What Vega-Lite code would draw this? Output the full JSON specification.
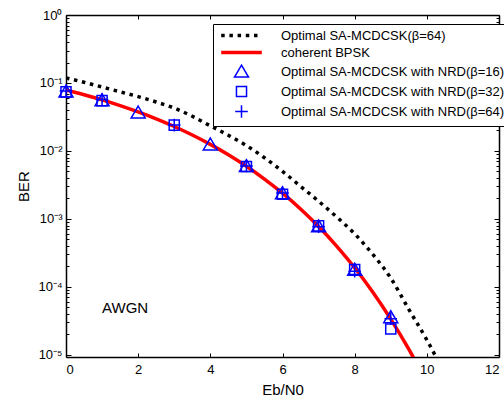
{
  "$schema": "https://vega.github.io/schema/vega-lite/v6.json",
  "width": 433,
  "height": 342,
  "autosize": "none",
  "padding": {"left": 66, "top": 15, "right": 5, "bottom": 45},
  "background": "white",
  "data": {"values": [
    {"series": "Optimal SA-MCDCSK(β=64)", "ebn0": 0, "ber": 0.1189},
    {"series": "Optimal SA-MCDCSK(β=64)", "ebn0": 0.5, "ber": 0.1023},
    {"series": "Optimal SA-MCDCSK(β=64)", "ebn0": 1, "ber": 0.0871},
    {"series": "Optimal SA-MCDCSK(β=64)", "ebn0": 1.5, "ber": 0.0741},
    {"series": "Optimal SA-MCDCSK(β=64)", "ebn0": 2, "ber": 0.0631},
    {"series": "Optimal SA-MCDCSK(β=64)", "ebn0": 2.5, "ber": 0.0525},
    {"series": "Optimal SA-MCDCSK(β=64)", "ebn0": 3, "ber": 0.0427},
    {"series": "Optimal SA-MCDCSK(β=64)", "ebn0": 3.5, "ber": 0.0324},
    {"series": "Optimal SA-MCDCSK(β=64)", "ebn0": 4, "ber": 0.0234},
    {"series": "Optimal SA-MCDCSK(β=64)", "ebn0": 4.5, "ber": 0.0170},
    {"series": "Optimal SA-MCDCSK(β=64)", "ebn0": 5, "ber": 0.0120},
    {"series": "Optimal SA-MCDCSK(β=64)", "ebn0": 5.5, "ber": 0.00794},
    {"series": "Optimal SA-MCDCSK(β=64)", "ebn0": 6, "ber": 0.00501},
    {"series": "Optimal SA-MCDCSK(β=64)", "ebn0": 6.5, "ber": 0.00302},
    {"series": "Optimal SA-MCDCSK(β=64)", "ebn0": 7, "ber": 0.00182},
    {"series": "Optimal SA-MCDCSK(β=64)", "ebn0": 7.5, "ber": 0.00107},
    {"series": "Optimal SA-MCDCSK(β=64)", "ebn0": 8, "ber": 0.000603},
    {"series": "Optimal SA-MCDCSK(β=64)", "ebn0": 8.5, "ber": 0.000302},
    {"series": "Optimal SA-MCDCSK(β=64)", "ebn0": 9, "ber": 0.000135},
    {"series": "Optimal SA-MCDCSK(β=64)", "ebn0": 9.5, "ber": 0.0000468},
    {"series": "Optimal SA-MCDCSK(β=64)", "ebn0": 10, "ber": 0.0000166},
    {"series": "Optimal SA-MCDCSK(β=64)", "ebn0": 10.5, "ber": 0.0000052},
    {"series": "coherent BPSK", "ebn0": 0, "ber": 0.07865},
    {"series": "coherent BPSK", "ebn0": 0.5, "ber": 0.06706},
    {"series": "coherent BPSK", "ebn0": 1, "ber": 0.05628},
    {"series": "coherent BPSK", "ebn0": 1.5, "ber": 0.04640},
    {"series": "coherent BPSK", "ebn0": 2, "ber": 0.03751},
    {"series": "coherent BPSK", "ebn0": 2.5, "ber": 0.02965},
    {"series": "coherent BPSK", "ebn0": 3, "ber": 0.02288},
    {"series": "coherent BPSK", "ebn0": 3.5, "ber": 0.01717},
    {"series": "coherent BPSK", "ebn0": 4, "ber": 0.01250},
    {"series": "coherent BPSK", "ebn0": 4.5, "ber": 0.00879},
    {"series": "coherent BPSK", "ebn0": 5, "ber": 0.00595},
    {"series": "coherent BPSK", "ebn0": 5.5, "ber": 0.00386},
    {"series": "coherent BPSK", "ebn0": 6, "ber": 0.00239},
    {"series": "coherent BPSK", "ebn0": 6.5, "ber": 0.00140},
    {"series": "coherent BPSK", "ebn0": 7, "ber": 0.000773},
    {"series": "coherent BPSK", "ebn0": 7.5, "ber": 0.000399},
    {"series": "coherent BPSK", "ebn0": 8, "ber": 0.000191},
    {"series": "coherent BPSK", "ebn0": 8.5, "ber": 0.0000840},
    {"series": "coherent BPSK", "ebn0": 9, "ber": 0.0000336},
    {"series": "coherent BPSK", "ebn0": 9.5, "ber": 0.0000121},
    {"series": "coherent BPSK", "ebn0": 10, "ber": 0.00000387},
    {"series": "Optimal SA-MCDCSK with NRD(β=16)", "ebn0": 0, "ber": 0.075},
    {"series": "Optimal SA-MCDCSK with NRD(β=16)", "ebn0": 1, "ber": 0.056},
    {"series": "Optimal SA-MCDCSK with NRD(β=16)", "ebn0": 2, "ber": 0.037},
    {"series": "Optimal SA-MCDCSK with NRD(β=16)", "ebn0": 4, "ber": 0.0125},
    {"series": "Optimal SA-MCDCSK with NRD(β=16)", "ebn0": 5, "ber": 0.006},
    {"series": "Optimal SA-MCDCSK with NRD(β=16)", "ebn0": 6, "ber": 0.0024},
    {"series": "Optimal SA-MCDCSK with NRD(β=16)", "ebn0": 7, "ber": 0.00078},
    {"series": "Optimal SA-MCDCSK with NRD(β=16)", "ebn0": 8, "ber": 0.00018},
    {"series": "Optimal SA-MCDCSK with NRD(β=16)", "ebn0": 9, "ber": 0.000036},
    {"series": "Optimal SA-MCDCSK with NRD(β=32)", "ebn0": 0, "ber": 0.074},
    {"series": "Optimal SA-MCDCSK with NRD(β=32)", "ebn0": 1, "ber": 0.055},
    {"series": "Optimal SA-MCDCSK with NRD(β=32)", "ebn0": 3, "ber": 0.024},
    {"series": "Optimal SA-MCDCSK with NRD(β=32)", "ebn0": 5, "ber": 0.0059},
    {"series": "Optimal SA-MCDCSK with NRD(β=32)", "ebn0": 6, "ber": 0.0023},
    {"series": "Optimal SA-MCDCSK with NRD(β=32)", "ebn0": 7, "ber": 0.00079},
    {"series": "Optimal SA-MCDCSK with NRD(β=32)", "ebn0": 8, "ber": 0.00018},
    {"series": "Optimal SA-MCDCSK with NRD(β=32)", "ebn0": 9, "ber": 0.000024},
    {"series": "Optimal SA-MCDCSK with NRD(β=64)", "ebn0": 0, "ber": 0.076},
    {"series": "Optimal SA-MCDCSK with NRD(β=64)", "ebn0": 1, "ber": 0.057},
    {"series": "Optimal SA-MCDCSK with NRD(β=64)", "ebn0": 3, "ber": 0.024},
    {"series": "Optimal SA-MCDCSK with NRD(β=64)", "ebn0": 5, "ber": 0.006},
    {"series": "Optimal SA-MCDCSK with NRD(β=64)", "ebn0": 6, "ber": 0.0024},
    {"series": "Optimal SA-MCDCSK with NRD(β=64)", "ebn0": 7, "ber": 0.00077},
    {"series": "Optimal SA-MCDCSK with NRD(β=64)", "ebn0": 8, "ber": 0.00017},
    {"series": "Optimal SA-MCDCSK with NRD(β=64)", "ebn0": 9, "ber": 0.000034}
  ]},
  "config": {
    "view": {"stroke": null},
    "font": "Liberation Sans",
    "legend": {"strokeWidth": 1},
    "axis": {
      "grid": false,
      "domainColor": "black",
      "domainWidth": 1.5,
      "tickColor": "black",
      "tickWidth": 1,
      "labelColor": "black",
      "titleColor": "black",
      "labelFont": "Liberation Sans",
      "titleFont": "Liberation Sans",
      "labelFontSize": 13,
      "titleFontSize": 15,
      "titleFontWeight": "normal"
    }
  },
  "resolve": {"axis": {"x": "independent", "y": "independent"}},
  "layer": [
    {
      "transform": [{"filter": "datum.series == 'Optimal SA-MCDCSK(β=64)'"}],
      "mark": {"type": "line", "color": "black", "strokeDash": [3.5, 4.7], "strokeWidth": 3.5, "strokeCap": "butt", "clip": true, "interpolate": "monotone"},
      "encoding": {
        "x": {"field": "ebn0", "type": "quantitative",
              "scale": {"domain": [0, 12], "nice": false, "zero": false},
              "axis": {"orient": "bottom", "values": [0, 2, 4, 6, 8, 10, 12], "tickSize": -4, "labelPadding": 10, "title": "Eb/N0", "titlePadding": 6}},
        "y": {"field": "ber", "type": "quantitative",
              "scale": {"type": "log", "domain": [0.0000093, 1], "nice": false},
              "axis": {"orient": "left", "values": [1, 0.1, 0.01, 0.001, 0.0001, 0.00001], "tickSize": -5, "labelPadding": 9,
                       "labelExpr": "datum.value == 1 ? '10⁰' : datum.value == 0.1 ? '10⁻¹' : datum.value == 0.01 ? '10⁻²' : datum.value == 0.001 ? '10⁻³' : datum.value == 0.0001 ? '10⁻⁴' : '10⁻⁵'",
                       "title": "BER", "titlePadding": 6}},
        "color": {"field": "series", "type": "nominal",
                  "scale": {"domain": ["Optimal SA-MCDCSK(β=64)", "coherent BPSK", "Optimal SA-MCDCSK with NRD(β=16)", "Optimal SA-MCDCSK with NRD(β=32)", "Optimal SA-MCDCSK with NRD(β=64)"],
                            "range": ["black", "red", "blue", "blue", "blue"]},
                  "legend": {"orient": "none", "legendX": 147, "legendY": 9, "title": null, "strokeColor": "black", "fillColor": "white", "padding": 5,
                             "labelFont": "Liberation Sans", "labelFontSize": 13, "labelColor": "black", "labelLimit": 400, "symbolSize": 196, "rowPadding": 2,
                             "symbolOffset": 17, "labelOffset": 33,
                             "encode": {"symbols": {"update": {
                               "strokeDash": {"signal": "datum.value == 'Optimal SA-MCDCSK(β=64)' ? [3.5, 4.7] : []"},
                               "strokeWidth": {"signal": "datum.value == 'Optimal SA-MCDCSK(β=64)' || datum.value == 'coherent BPSK' ? 3.5 : 1.5"},
                               "fill": {"value": "transparent"},
                               "stroke": {"scale": "color", "field": "value"}
                             }}}}}
      }
    },
    {
      "transform": [{"filter": "datum.series == 'coherent BPSK'"}],
      "mark": {"type": "line", "color": "red", "strokeWidth": 3.5, "clip": true, "interpolate": "monotone"},
      "encoding": {
        "x": {"field": "ebn0", "type": "quantitative",
              "axis": {"orient": "top", "values": [0, 2, 4, 6, 8, 10, 12], "tickSize": -4, "labels": false, "title": null}},
        "y": {"field": "ber", "type": "quantitative",
              "axis": {"orient": "right", "values": [1, 0.1, 0.01, 0.001, 0.0001, 0.00001], "tickSize": -5, "labels": false, "title": null}},
        "color": {"field": "series", "type": "nominal"}
      }
    },
    {
      "transform": [{"filter": "indexof(datum.series, 'NRD') >= 0"}],
      "mark": {"type": "point", "filled": false, "size": 196, "strokeWidth": 1.5, "opacity": 1},
      "encoding": {
        "x": {"field": "ebn0", "type": "quantitative", "axis": null},
        "y": {"field": "ber", "type": "quantitative",
              "axis": {"orient": "left", "domain": false, "labels": false, "title": null, "tickSize": -3,
                       "values": [0.00002,0.00003,0.00004,0.00005,0.00006,0.00007,0.00008,0.00009,0.0002,0.0003,0.0004,0.0005,0.0006,0.0007,0.0008,0.0009,0.002,0.003,0.004,0.005,0.006,0.007,0.008,0.009,0.02,0.03,0.04,0.05,0.06,0.07,0.08,0.09,0.2,0.3,0.4,0.5,0.6,0.7,0.8,0.9]}},
        "color": {"field": "series", "type": "nominal"},
        "shape": {"field": "series", "type": "nominal",
                  "scale": {"domain": ["Optimal SA-MCDCSK(β=64)", "coherent BPSK", "Optimal SA-MCDCSK with NRD(β=16)", "Optimal SA-MCDCSK with NRD(β=32)", "Optimal SA-MCDCSK with NRD(β=64)"],
                            "range": ["M-2.9,0H2.9", "M-2.9,0H2.9", "M0,-0.9L1,0.8L-1,0.8Z", "M-0.72,-0.72H0.72V0.72H-0.72Z", "M-0.9,0H0.9M0,-0.9V0.9"]}}
      }
    },
    {
      "data": {"values": [{"ebn0": 1, "ber": 0.000049, "label": "AWGN"}]},
      "mark": {"type": "text", "align": "left", "baseline": "middle", "fontSize": 15, "font": "Liberation Sans", "color": "black"},
      "encoding": {
        "x": {"field": "ebn0", "type": "quantitative", "axis": null},
        "y": {"field": "ber", "type": "quantitative",
              "axis": {"orient": "right", "domain": false, "labels": false, "title": null, "tickSize": -3,
                       "values": [0.00002,0.00003,0.00004,0.00005,0.00006,0.00007,0.00008,0.00009,0.0002,0.0003,0.0004,0.0005,0.0006,0.0007,0.0008,0.0009,0.002,0.003,0.004,0.005,0.006,0.007,0.008,0.009,0.02,0.03,0.04,0.05,0.06,0.07,0.08,0.09,0.2,0.3,0.4,0.5,0.6,0.7,0.8,0.9]}},
        "text": {"field": "label"}
      }
    }
  ]
}
